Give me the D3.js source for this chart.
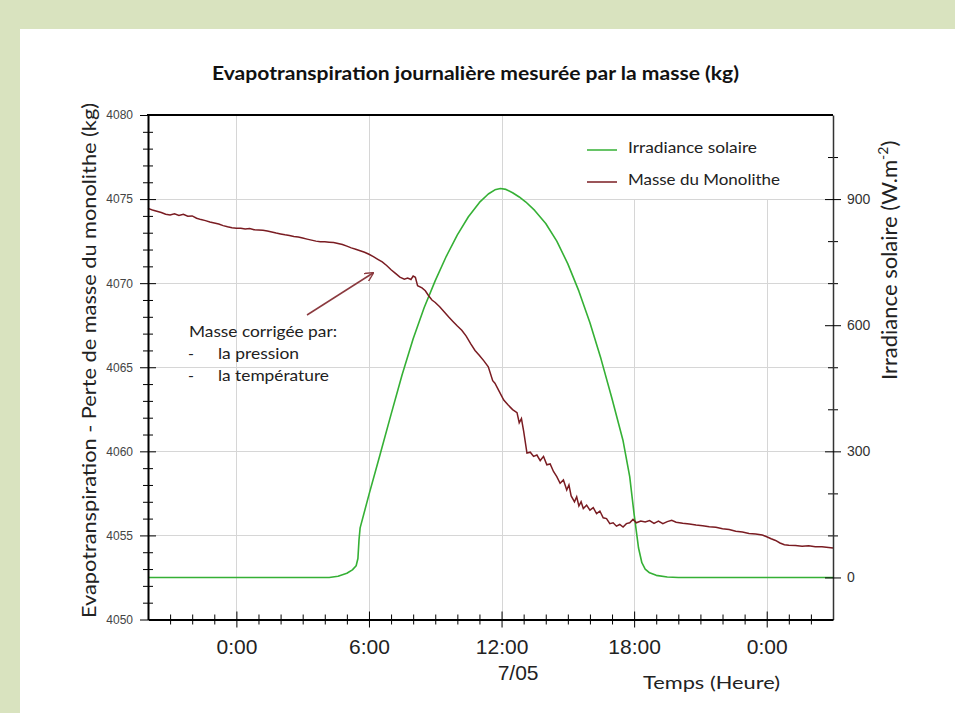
<!DOCTYPE html>
<html><head><meta charset="utf-8">
<script src="https://cdn.jsdelivr.net/npm/d3@7"></script>
<style>body{margin:0;background:#d9e3bf;} svg{display:block}</style>
</head><body><svg id="c" width="955" height="713"></svg>
<script>
// ---- DATA ----
const massHours = [-4.0,-3.8,-3.6,-3.4,-3.2,-3.0,-2.8,-2.6,-2.4,-2.2,-2.0,-1.8,-1.6,-1.4,-1.2,-1.0,-0.8,-0.6,-0.4,-0.2,
 0.0,0.2,0.4,0.6,0.8,1.0,1.2,1.4,1.6,1.8,2.0,2.2,2.4,2.6,2.8,3.0,3.2,3.4,3.6,3.8,4.0,4.2,4.4,4.6,4.8,5.0,5.2,5.4,5.6,5.8,
 6.0,6.2,6.4,6.6,6.8,7.0,7.2,7.4,7.6,7.75,7.9,8.0,8.1,8.2,8.4,8.55,8.7,8.85,9.0,9.2,9.4,9.6,9.8,10.0,10.2,10.4,10.6,10.8,
 11.0,11.2,11.4,11.6,11.7,11.9,12.1,12.3,12.5,12.7,12.8,12.9,13.0,13.15,13.3,13.45,13.6,13.75,13.9,14.05,14.2,14.35,14.5,
 14.65,14.8,14.95,15.05,15.15,15.3,15.4,15.5,15.6,15.7,15.85,16.0,16.15,16.3,16.45,16.6,16.75,16.9,17.05,17.2,17.35,17.5,
 17.65,17.8,17.95,18.1,18.3,18.5,18.7,18.9,19.1,19.3,19.5,19.7,19.9,20.2,20.5,20.8,21.1,21.4,21.7,22.0,22.3,22.6,22.9,
 23.2,23.5,23.8,24.0,24.2,24.4,24.6,24.8,25.0,25.3,25.6,25.9,26.2,26.5,26.8,27.0];
const massValues = [4074.45,4074.35,4074.28,4074.2,4074.1,4074.06,4074.12,4074.02,4074.1,4073.98,4074.0,4073.86,4073.78,4073.72,4073.64,4073.58,4073.52,4073.42,4073.35,4073.3,
 4073.27,4073.26,4073.22,4073.25,4073.18,4073.16,4073.14,4073.1,4073.04,4072.98,4072.93,4072.88,4072.84,4072.78,4072.74,4072.68,4072.62,4072.56,4072.5,4072.47,4072.46,4072.44,4072.42,4072.36,4072.3,4072.2,4072.1,4072.02,4071.93,4071.84,
 4071.72,4071.58,4071.42,4071.26,4071.05,4070.8,4070.58,4070.36,4070.24,4070.3,4070.22,4070.42,4070.35,4069.85,4069.72,4069.55,4069.25,4069.0,4068.85,4068.6,4068.3,4068.0,4067.72,4067.45,4067.2,4066.85,4066.4,4066.0,
 4065.7,4065.38,4065.03,4064.2,4064.05,4063.55,4063.05,4062.75,4062.48,4062.3,4061.7,4061.95,4061.2,4059.9,4059.95,4059.7,4059.78,4059.45,4059.7,4059.2,4059.25,4058.8,4058.5,
 4058.1,4058.3,4057.7,4058.0,4057.35,4057.0,4057.3,4056.75,4057.0,4056.6,4056.8,4056.5,4056.65,4056.3,4056.45,4056.05,4056.0,4055.7,4055.75,4055.55,4055.65,4055.5,
 4055.7,4055.75,4055.95,4055.75,4055.85,4055.8,4055.88,4055.72,4055.85,4055.7,4055.82,4055.9,4055.78,4055.72,4055.68,4055.62,4055.58,4055.52,4055.48,4055.4,4055.35,4055.25,4055.2,
 4055.12,4055.08,4055.02,4054.92,4054.8,4054.7,4054.55,4054.45,4054.42,4054.4,4054.36,4054.38,4054.33,4054.32,4054.28,4054.25];
const irrHours = [-4,4.2,4.6,5.0,5.25,5.42,5.5,5.55,5.6,6.0,6.5,7.0,7.5,8.0,8.5,9.0,9.5,10.0,10.5,11.0,11.4,11.7,11.95,12.2,12.5,12.8,13.1,13.5,14.0,14.5,15.0,15.5,16.0,16.5,17.0,17.5,17.8,18.0,18.2,18.35,18.5,18.7,19.0,19.5,20,27];
const irrValues = [0,0,3,10,18,28,45,90,118,197,292,388,482,568,642,706,764,815,858,892,912,922,925,923,915,905,893,873,842,800,746,681,606,520,425,325,240,150,70,35,20,11,5,1,0,0];
const xMajorHours = [0,6,12,18,24];
const xTickLabels = ["0:00","6:00","12:00","18:00","0:00"];
const leftMajorTicks = [4050,4055,4060,4065,4070,4075,4080];
const rightMajorTicks = [0,300,600,900];
const seriesNames = ["Irradiance solaire","Masse du Monolithe"];
const annotationLines = ["Masse corrigée par:","la pression","la température"];

// ---- SCALES ----
const svg = d3.select("#c");
const X0 = 148, X1 = 833, YB = 619.5, YT = 115;
const x = d3.scaleLinear().domain([-4,27]).range([X0,X1]);
const yL = d3.scaleLinear().domain([4050,4080]).range([YB,YT]);
const yR = d3.scaleLinear().domain([-100,1100]).range([YB,YT]);
const GREEN = "#35b035", RED = "#7a1c22";
const TXT = "Lato, 'Open Sans', sans-serif";
const NUM = "'Liberation Sans', Arial, sans-serif";

svg.append("rect").attr("x",20).attr("y",29).attr("width",935).attr("height",684).attr("fill","#fff");

// title
svg.append("text").attr("x",212).attr("y",80).attr("textLength",527).attr("lengthAdjust","spacingAndGlyphs")
  .attr("font-family",TXT).attr("font-weight","bold").attr("font-size",19).attr("fill","#111")
  .text("Evapotranspiration journalière mesurée par la masse (kg)");

// gridlines
const grid = svg.append("g").attr("stroke","#d6d6d6").attr("stroke-width",1);
leftMajorTicks.filter(v=>v>4050&&v<4080).forEach(v=>{
  grid.append("line").attr("x1",X0).attr("x2",X1).attr("y1",Math.round(yL(v))+0.5).attr("y2",Math.round(yL(v))+0.5);
});
xMajorHours.forEach(h=>{
  grid.append("line").attr("x1",Math.round(x(h))+0.5).attr("x2",Math.round(x(h))+0.5).attr("y1",YT).attr("y2",YB);
});

// legend box (white, covers gridlines)
svg.append("rect").attr("x",577).attr("y",116).attr("width",X1-577).attr("height",83).attr("fill","#fff");
const lg = svg.append("g");
[[GREEN,150,153],[RED,182,185]].forEach((d,i)=>{
  lg.append("line").attr("x1",587).attr("x2",617).attr("y1",d[1]).attr("y2",d[1]).attr("stroke",d[0]).attr("stroke-width",1.5);
  lg.append("text").attr("x",628).attr("y",d[2]).attr("font-family",TXT).attr("font-size",16).attr("fill","#222")
    .attr("textLength",i===0?129:152).attr("lengthAdjust","spacingAndGlyphs").text(seriesNames[i]);
});

// lines
const irr = irrHours.map((h,i)=>[h,irrValues[i]]);
const mass = massHours.map((h,i)=>[h,massValues[i]]);
svg.append("path").datum(irr).attr("fill","none").attr("stroke",GREEN).attr("stroke-width",1.6).attr("stroke-linejoin","round")
  .attr("d",d3.line().x(d=>x(d[0])).y(d=>yR(d[1])));
svg.append("path").datum(mass).attr("fill","none").attr("stroke",RED).attr("stroke-width",1.5)
  .attr("d",d3.line().x(d=>x(d[0])).y(d=>yL(d[1])));

// axes
function crossTicks(g,len,horizontal){
  g.selectAll(".tick line").each(function(){
    const l=d3.select(this);
    if(horizontal) l.attr("x1",-len).attr("x2",len); else l.attr("y1",-len).attr("y2",len);
  });
}
// left
const leftMinor = d3.range(4051,4080).filter(v=>v%5!==0);
const gLm = svg.append("g").attr("transform",`translate(${X0},0)`)
  .call(d3.axisLeft(yL).tickValues(leftMinor).tickFormat("").tickSize(5).tickSizeOuter(0));
gLm.select(".domain").remove(); crossTicks(gLm,5,true);
const gL = svg.append("g").attr("transform",`translate(${X0},0)`)
  .call(d3.axisLeft(yL).tickValues(leftMajorTicks).tickFormat(d3.format("d")).tickSize(8).tickPadding(7).tickSizeOuter(0));
crossTicks(gL,8,true);
gL.selectAll(".tick line").filter(d=>d===4080||d===4050).attr("x2",0);
gL.selectAll("text").attr("font-family",NUM).attr("font-size",12).attr("fill","#444");
gL.select(".domain").attr("stroke-width",2);
// right
const rightMinor = [100,200,400,500,700,800,1000];
const gRm = svg.append("g").attr("transform",`translate(${X1},0)`)
  .call(d3.axisRight(yR).tickValues(rightMinor).tickFormat("").tickSize(5).tickSizeOuter(0));
gRm.select(".domain").remove(); crossTicks(gRm,5,true);
const gR = svg.append("g").attr("transform",`translate(${X1},0)`)
  .call(d3.axisRight(yR).tickValues(rightMajorTicks).tickSize(8).tickPadding(6).tickSizeOuter(0));
crossTicks(gR,8,true);
gR.selectAll("text").attr("font-family",NUM).attr("font-size",14).attr("fill","#333");
gR.select(".domain").attr("stroke-width",1.5).attr("stroke","#333");
// bottom
const xMinor = d3.range(-3,27).filter(h=>h%6!==0);
const gBm = svg.append("g").attr("transform",`translate(0,${YB})`)
  .call(d3.axisBottom(x).tickValues(xMinor).tickFormat("").tickSize(5).tickSizeOuter(0));
gBm.select(".domain").remove(); crossTicks(gBm,5,false);
const gB = svg.append("g").attr("transform",`translate(0,${YB})`)
  .call(d3.axisBottom(x).tickValues(xMajorHours).tickFormat((d,i)=>xTickLabels[i]).tickSize(8).tickSizeOuter(0));
crossTicks(gB,8,false);
gB.selectAll("text").attr("font-family",NUM).attr("font-size",21).attr("fill","#222").attr("y",34).attr("dy",null);
gB.select(".domain").attr("stroke-width",2);
// top frame
svg.append("line").attr("x1",X0-1).attr("x2",X1).attr("y1",YT).attr("y2",YT).attr("stroke","#000").attr("stroke-width",2);

// date label + axis titles
svg.append("text").attr("x",x(12)+37).attr("y",680).attr("text-anchor","end").attr("font-family",NUM).attr("font-size",21).attr("fill","#222").text("7/05");
svg.append("text").attr("x",643).attr("y",689).attr("font-family",TXT).attr("font-size",18).attr("fill","#222")
  .attr("textLength",137).attr("lengthAdjust","spacingAndGlyphs").text("Temps (Heure)");
svg.append("text").attr("transform","translate(96,618) rotate(-90)").attr("font-family",TXT).attr("font-size",20).attr("fill","#222")
  .attr("textLength",515).attr("lengthAdjust","spacingAndGlyphs").text("Evapotranspiration - Perte de masse du monolithe (kg)");
const rt = svg.append("text").attr("transform","translate(897,380) rotate(-90)").attr("font-family",TXT).attr("font-size",22).attr("fill","#222");
rt.append("tspan").text("Irradiance solaire (W.m");
rt.append("tspan").attr("font-size",14).attr("dy",-9).text("-2");
rt.append("tspan").attr("dy",9).text(")");

// annotation
const an = svg.append("g").attr("font-family",TXT).attr("font-size",16).attr("fill","#222");
an.append("text").attr("x",189).attr("y",337).attr("textLength",148).attr("lengthAdjust","spacingAndGlyphs").text(annotationLines[0]);
an.append("text").attr("x",188).attr("y",359).text("-");
an.append("text").attr("x",218).attr("y",359).attr("textLength",81).attr("lengthAdjust","spacingAndGlyphs").text(annotationLines[1]);
an.append("text").attr("x",188).attr("y",381).text("-");
an.append("text").attr("x",218).attr("y",381).attr("textLength",111).attr("lengthAdjust","spacingAndGlyphs").text(annotationLines[2]);
svg.append("defs").append("marker").attr("id","ah").attr("viewBox","0 0 10 10").attr("refX",9).attr("refY",5)
  .attr("markerWidth",9).attr("markerHeight",9).attr("orient","auto").attr("markerUnits","userSpaceOnUse")
  .append("path").attr("d","M0,0 L10,5 L0,10").attr("fill","none").attr("stroke","#8b3a3f").attr("stroke-width",1.5);
svg.append("line").attr("x1",307).attr("y1",315).attr("x2",373).attr("y2",273).attr("stroke","#8b3a3f").attr("stroke-width",1.5).attr("marker-end","url(#ah)");
</script></body></html>
